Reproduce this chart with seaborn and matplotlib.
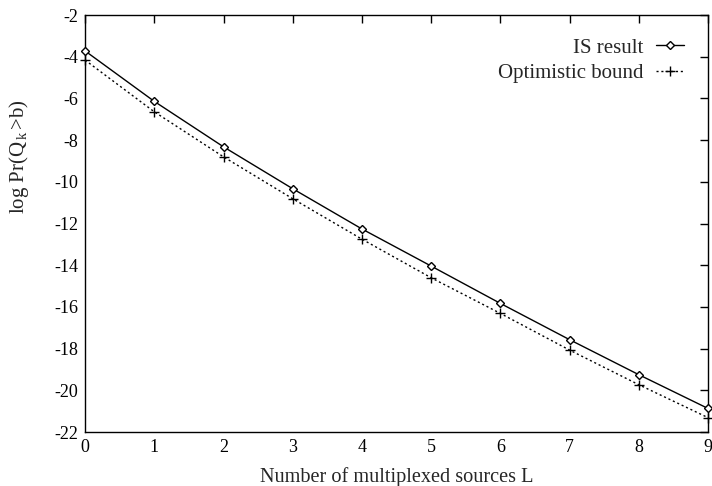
import matplotlib
matplotlib.use("Agg")
import matplotlib.pyplot as plt
import seaborn as sns
import pandas as pd

L = [0, 1, 2, 3, 4, 5, 6, 7, 8, 9]
is_result = [-3.72, -6.14, -8.32, -10.33, -12.26, -14.04, -15.83, -17.57, -19.25, -20.87]
optimistic = [-4.16, -6.64, -8.80, -10.81, -12.75, -14.60, -16.31, -18.07, -19.73, -21.31]
yticks = list(range(-22, -1, 2))

df = pd.DataFrame({
    "L": L * 2,
    "val": is_result + optimistic,
    "series": ["IS result"] * len(L) + ["Optimistic bound"] * len(L),
})

sns.set_theme(style="white")
plt.rcParams["font.family"] = ["Liberation Serif", "DejaVu Serif"]
plt.rcParams["mathtext.fontset"] = "custom"
plt.rcParams["mathtext.rm"] = "Liberation Serif"
plt.rcParams["mathtext.it"] = "Liberation Serif"

fig = plt.figure(figsize=(7.12, 4.86), dpi=100)
ax = fig.add_axes([0.1195, 0.111, 0.875, 0.858])

sub1 = df[df.series == "IS result"]
sub2 = df[df.series == "Optimistic bound"]
ax.axvline(0, color="black", lw=1.2, linestyle=(0, (1, 1)), zorder=1)
sns.lineplot(data=sub1, x="L", y="val", ax=ax, color="black", lw=1.0,
             marker="D", markersize=4, markerfacecolor="white",
             markeredgecolor="black", markeredgewidth=1.0, label="IS result",
             clip_on=False, zorder=3)
sns.lineplot(data=sub2, x="L", y="val", ax=ax, color="black", lw=1.0,
             linestyle=(0, (1.5, 2)), marker="+", markersize=7,
             markeredgecolor="black", markeredgewidth=1.0,
             label="Optimistic bound", clip_on=False, zorder=3)

ax.set_xlim(0, 9)
ax.set_ylim(-22, -2)
ax.set_xticks(L)
ax.set_yticks(yticks)
ax.set_xticklabels([str(v) for v in L])
ax.set_yticklabels([str(v) for v in yticks])
ax.tick_params(direction="in", length=6, width=1, top=True, right=True,
               labelsize=13, colors="black", pad=5)
for s in ax.spines.values():
    s.set_color("black")
    s.set_linewidth(1.0)

ax.set_xlabel("Number of multiplexed sources L", fontsize=14.6, labelpad=8)
ax.set_ylabel(r"log Pr(Q$_{\,\mathrm{k}\,}$>b)", fontsize=15, va="center")
ax.yaxis.set_label_coords(-0.106, 0.66)

leg = ax.legend(loc="upper right", frameon=False, markerfirst=False,
                fontsize=15, handlelength=1.35, borderaxespad=0.7,
                labelspacing=0.3, handletextpad=0.6,
                bbox_to_anchor=(0.998, 1.0))
for t in leg.get_texts():
    t.set_ha("right")

fig.savefig("out.png", dpi=100)
